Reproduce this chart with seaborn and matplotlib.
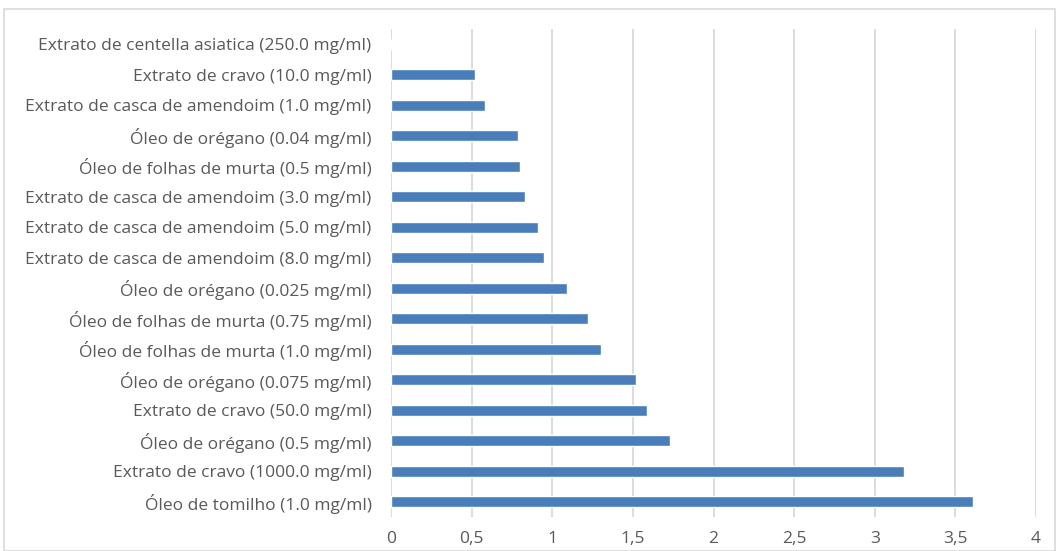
import matplotlib
matplotlib.use("Agg")
import matplotlib.pyplot as plt
import seaborn as sns
import pandas as pd
from matplotlib.patches import Rectangle
from matplotlib.ticker import FuncFormatter

categories = [
    "Extrato de centella asiatica (250.0 mg/ml)",
    "Extrato de cravo (10.0 mg/ml)",
    "Extrato de casca de amendoim (1.0 mg/ml)",
    "Óleo de orégano (0.04 mg/ml)",
    "Óleo de folhas de murta (0.5 mg/ml)",
    "Extrato de casca de amendoim (3.0 mg/ml)",
    "Extrato de casca de amendoim (5.0 mg/ml)",
    "Extrato de casca de amendoim (8.0 mg/ml)",
    "Óleo de orégano (0.025 mg/ml)",
    "Óleo de folhas de murta (0.75 mg/ml)",
    "Óleo de folhas de murta (1.0 mg/ml)",
    "Óleo de orégano (0.075 mg/ml)",
    "Extrato de cravo (50.0 mg/ml)",
    "Óleo de orégano (0.5 mg/ml)",
    "Extrato de cravo (1000.0 mg/ml)",
    "Óleo de tomilho (1.0 mg/ml)",
]
values = [0.0, 0.52, 0.58, 0.79, 0.80, 0.83, 0.91, 0.95,
          1.09, 1.22, 1.30, 1.52, 1.59, 1.73, 3.18, 3.61]
x_ticks = [0, 0.5, 1, 1.5, 2, 2.5, 3, 3.5, 4]

df = pd.DataFrame({"categoria": categories, "valor": values})

sns.set_theme(style="white")
plt.rcParams["font.family"] = ["Open Sans", "DejaVu Sans"]

text_color = "#595959"
grid_color = "#D9D9D9"
bar_color = "#4A7EBB"

fig = plt.figure(figsize=(10.59, 5.51), dpi=100)
ax = fig.add_axes([391 / 1059, 1 - 517 / 551, (1036 - 391) / 1059, (517 - 29) / 551])

sns.barplot(data=df, x="valor", y="categoria", orient="h", color=bar_color,
            width=0.37, saturation=1, ax=ax, zorder=3)

ax.set_xlim(0, 4)
ax.set_ylim(len(categories) - 0.5, -0.5)
ax.set_xticks(x_ticks)
ax.xaxis.set_major_formatter(FuncFormatter(lambda v, p: f"{v:g}".replace(".", ",")))
ax.grid(axis="x", color=grid_color, linewidth=1.3, zorder=0)
ax.grid(axis="y", visible=False)
for s in ax.spines.values():
    s.set_visible(False)
ax.set_xlabel("")
ax.set_ylabel("")
ax.tick_params(axis="x", length=0, pad=10, labelsize=12.5, labelcolor=text_color)
ax.tick_params(axis="y", length=0, pad=14, labelsize=12.5, labelcolor=text_color)

# light frame around the chart area
fig.patches.append(Rectangle((4 / 1059, 0), 1051 / 1059, 1 - 9 / 551,
                             transform=fig.transFigure, fill=False,
                             edgecolor=grid_color, linewidth=1.2))

fig.savefig("out.png", dpi=100, facecolor="white")
